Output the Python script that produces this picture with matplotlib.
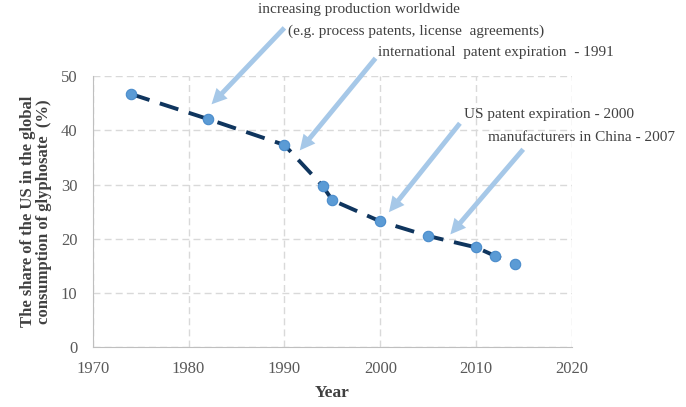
import matplotlib
matplotlib.use("Agg")
import matplotlib.pyplot as plt

years = [1974, 1982, 1990, 1994, 1995, 2000, 2005, 2010, 2012, 2014]
share = [46.7, 42.1, 37.3, 29.7, 27.1, 23.2, 20.5, 18.4, 16.8, 15.3]
xticks = [1970, 1980, 1990, 2000, 2010, 2020]
yticks = [0, 10, 20, 30, 40, 50]

notes = [
    ("increasing production worldwide", 1987.2, 62.2),
    ("(e.g. process patents, license  agreements)", 1990.4, 58.3),
    ("international  patent expiration  - 1991", 1999.8, 54.4),
    ("US patent expiration - 2000", 2008.7, 43.0),
    ("manufacturers in China - 2007", 2011.2, 38.6),
]
arrows = [
    ((1990.0, 58.9), (1982.4, 44.8)),
    ((1999.5, 53.3), (1991.6, 36.3)),
    ((2008.3, 41.3), (2000.9, 24.9)),
    ((2014.9, 36.5), (2007.3, 20.8)),
]

plt.rcParams['font.family'] = ['Liberation Serif', 'DejaVu Serif']

fig = plt.figure(figsize=(6.86, 4.07), dpi=100)
ax = fig.add_axes([0.135, 0.147, 0.699, 0.666])

ax.plot(years, share, color='#0f355e', lw=2.8, dashes=(5, 2.8), zorder=3)
ax.plot(years, share, 'o', color='#5b9bd5', ms=7.5, mec='#4a8ccc', mew=0.8, zorder=4)

ax.set_xlim(1970, 2020)
ax.set_ylim(0, 50)
ax.set_xticks(xticks)
ax.set_yticks(yticks)
ax.grid(True, color='#d9d9d9', ls=(0, (5, 3)), lw=1.0)
for s in ['top', 'right']:
    ax.spines[s].set_visible(False)
for s in ['left', 'bottom']:
    ax.spines[s].set_color('#bfbfbf')
ax.tick_params(length=0, labelsize=12, labelcolor='#595959')
ax.tick_params(axis='x', pad=10)
ax.tick_params(axis='y', pad=11)

ax.set_xlabel('Year', fontsize=12.5, fontweight='bold', color='#404040', labelpad=6)
ax.set_ylabel('The share of the US in the global\nconsumption of glyphosate  (%)',
              fontsize=12, fontweight='bold', color='#404040', labelpad=6, linespacing=1.0)

for txt, x, y in notes:
    ax.text(x, y, txt, fontsize=11, color='#404040', ha='left', va='center', clip_on=False)

for (x0, y0), (x1, y1) in arrows:
    ax.annotate('', xy=(x1, y1), xytext=(x0, y0), annotation_clip=False,
                arrowprops=dict(arrowstyle='simple,head_length=1.1,head_width=1.1,tail_width=0.35',
                                color='#a6c8e8', lw=0, shrinkA=0, shrinkB=0), zorder=2)

fig.savefig('out.png', dpi=100)
